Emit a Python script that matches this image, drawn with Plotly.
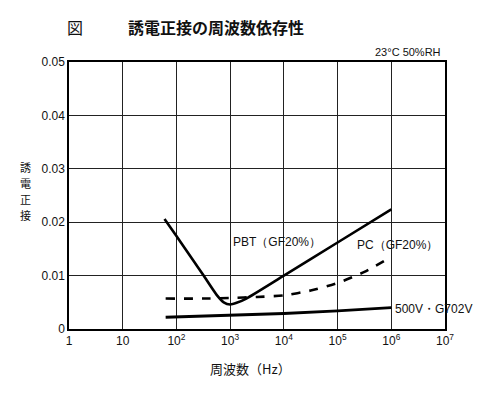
import plotly.graph_objects as go

# Data (frequency in Hz, dissipation factor)
pbt_freq = [60, 100, 200, 316, 560, 760, 1000, 1320, 2000, 10000, 100000, 1000000]
pbt_tan = [0.0206, 0.0174, 0.0130, 0.0101, 0.0064, 0.0050, 0.0046, 0.0049, 0.0057, 0.0100, 0.0162, 0.0224]

pc_freq = [63, 316, 1000, 3160, 10000, 31600, 100000, 316000, 1000000]
pc_tan = [0.0057, 0.0057, 0.0058, 0.0060, 0.0063, 0.0072, 0.0086, 0.0107, 0.0135]

g_freq = [63, 1000, 10000, 100000, 1000000]
g_tan = [0.0022, 0.0026, 0.0029, 0.0034, 0.0040]

x_tickvals = [1, 10, 100, 1000, 10000, 100000, 1000000, 10000000]
x_ticktext = ["1", "10", "10<sup>2</sup>", "10<sup>3</sup>", "10<sup>4</sup>",
              "10<sup>5</sup>", "10<sup>6</sup>", "10<sup>7</sup>"]
y_tickvals = [0, 0.01, 0.02, 0.03, 0.04, 0.05]
y_ticktext = ["0", "0.01", "0.02", "0.03", "0.04", "0.05"]
y_title_chars = ["誘", "電", "正", "接"]

FONT = "Liberation Sans, Arial, sans-serif"
JFONT = "Noto Sans CJK JP, sans-serif"

# page offset from default body margin
OFF = 8
PL, PR, PT, PB = 69, 445, 62, 329  # plot area in page pixels

fig = go.Figure()
fig.add_trace(go.Scatter(x=pbt_freq, y=pbt_tan, mode="lines", line=dict(color="black", width=2.6, shape="spline", smoothing=0.6), showlegend=False))
fig.add_trace(go.Scatter(x=pc_freq, y=pc_tan, mode="lines", line=dict(color="black", width=2.6, dash="dash", shape="spline", smoothing=0.6), showlegend=False))
fig.add_trace(go.Scatter(x=g_freq, y=g_tan, mode="lines", line=dict(color="black", width=2.8), showlegend=False))

W, H = 500 - OFF, 398 - OFF
fig.update_layout(
    width=W, height=H,
    margin=dict(l=PL - OFF, r=W - (PR - OFF), t=PT - OFF, b=H - (PB - OFF), autoexpand=False),
    paper_bgcolor="white", plot_bgcolor="white",
    font=dict(family=FONT, color="#111", size=12),
    xaxis=dict(type="log", range=[0, 7], tickvals=x_tickvals, ticktext=x_ticktext,
               showgrid=True, gridcolor="#222", gridwidth=1,
               showline=True, linecolor="black", linewidth=2, mirror=True,
               ticks="", zeroline=False, tickfont=dict(size=12, family=FONT)),
    yaxis=dict(range=[0, 0.05], tickvals=y_tickvals, ticktext=y_ticktext,
               showgrid=True, gridcolor="#222", gridwidth=1,
               showline=True, linecolor="black", linewidth=1.5, mirror=True,
               ticks="", zeroline=False, tickfont=dict(size=12, family=FONT)),
)

ann = [
    dict(x=75, y=27, text="図", font=dict(size=16, family=JFONT)),
    dict(x=216, y=27, text="<b>誘電正接の周波数依存性</b>", font=dict(size=16, family=JFONT)),
    dict(x=408, y=52, text="23°C 50%RH", font=dict(size=11, family=FONT)),
    dict(x=250, y=368, text="周波数（Hz）", font=dict(size=13, family=JFONT)),
    dict(x=277, y=242, text="PBT（GF20%）", font=dict(size=12, family=FONT)),
    dict(x=397, y=245, text="PC（GF20%）", font=dict(size=12, family=FONT)),
    dict(x=433, y=309, text="500V・G702V", font=dict(size=12, family=FONT)),
]
for i, ch in enumerate(y_title_chars):
    ann.append(dict(x=25, y=167 + 16 * i, text=ch, font=dict(size=11, family=JFONT)))

for a in ann:
    fig.add_annotation(x=(a["x"] - PL) / (PR - PL), y=(PB - a["y"]) / (PB - PT),
                       xref="paper", yref="paper",
                       xanchor="center", yanchor="middle", text=a["text"], showarrow=False,
                       font=dict(color="#111", **a["font"]))

fig.write_html("out.html")
